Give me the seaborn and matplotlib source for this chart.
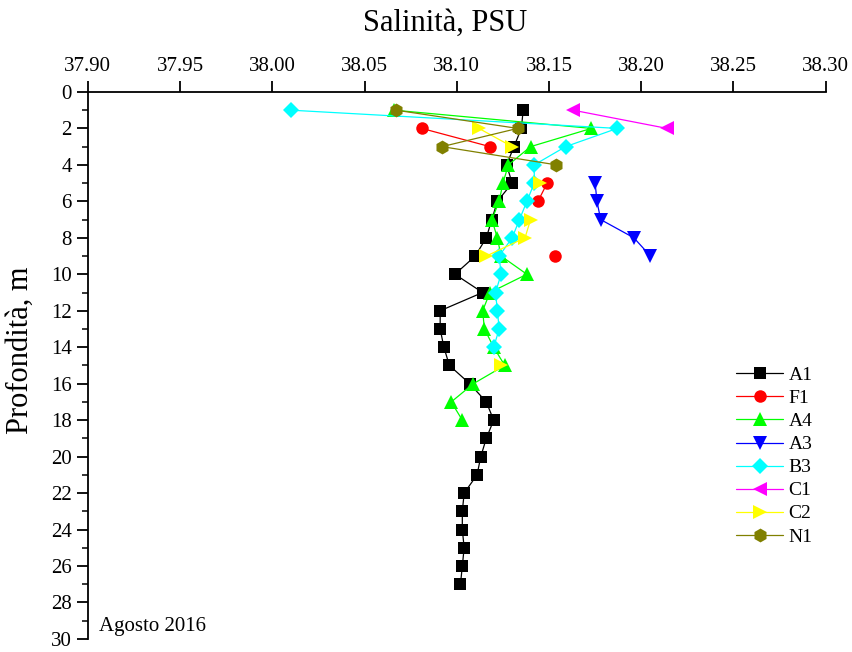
import numpy as np
import pandas as pd
import seaborn as sns
import matplotlib
matplotlib.use('Agg')
import matplotlib.pyplot as plt
from matplotlib.ticker import MultipleLocator, FormatStrFormatter

# Data (salinity PSU by depth m)
a1_depth = [1, 2, 3, 4, 5, 6, 7, 8, 9, 10, 11, 12, 13, 14, 15, 16, 17, 18,
            19, 20, 21, 22, 23, 24, 25, 26, 27]
a1_sal = [38.136, 38.135, 38.131, 38.127, 38.130, 38.122, 38.119, 38.116,
          38.110, 38.099, 38.114, 38.091, 38.091, 38.093, 38.096, 38.107,
          38.116, 38.120, 38.116, 38.113, 38.111, 38.104, 38.103, 38.103,
          38.104, 38.103, 38.102]

f1_depth = [2, 3, 5, 6, 9]
f1_sal = [38.081, 38.118, 38.149, 38.144, 38.153]

a4_depth = [1, 2, 3, 4, 5, 6, 7, 8, 9, 10, 11, 12, 13, 14, 15, 16, 17, 18]
a4_sal = [38.066, 38.173, 38.140, 38.128, 38.125, 38.123, 38.119, 38.122,
          38.124, 38.138, 38.118, 38.114, 38.115, 38.120, 38.126, 38.109,
          38.097, 38.103]

a3_depth = [5, 6, 7, 8, 9]
a3_sal = [38.175, 38.176, 38.178, 38.196, 38.205]

b3_depth = [1, 2, 3, 4, 5, 6, 7, 8, 9, 10, 11, 12, 13, 14]
b3_sal = [38.010, 38.187, 38.159, 38.142, 38.142, 38.138, 38.134, 38.130,
          38.123, 38.124, 38.121, 38.122, 38.123, 38.120]

c1_depth = [1, 2]
c1_sal = [38.163, 38.214]

c2_depth = [2, 3, 5, 7, 8, 9, 15]
c2_sal = [38.112, 38.130, 38.145, 38.140, 38.137, 38.116, 38.124]

n1_depth = [1, 2, 3, 4]
n1_sal = [38.067, 38.133, 38.092, 38.154]

stations = ['A1', 'F1', 'A4', 'A3', 'B3', 'C1', 'C2', 'N1']
colors = {'A1': 'black', 'F1': 'red', 'A4': '#00ff00', 'A3': 'blue',
          'B3': 'cyan', 'C1': 'magenta', 'C2': 'yellow', 'N1': '#808000'}
marks = {'A1': 's', 'F1': 'o', 'A4': '^', 'A3': 'v', 'B3': 'D',
         'C1': '<', 'C2': '>', 'N1': 'h'}
# marker sizes so the shapes look about the same size
msize = {'s': 8, 'o': 9, '^': 10.5, 'v': 10.5, '<': 10.5, '>': 10.5,
         'D': 8.5, 'h': 10}

series = {'A1': (a1_depth, a1_sal), 'F1': (f1_depth, f1_sal),
          'A4': (a4_depth, a4_sal), 'A3': (a3_depth, a3_sal),
          'B3': (b3_depth, b3_sal), 'C1': (c1_depth, c1_sal),
          'C2': (c2_depth, c2_sal), 'N1': (n1_depth, n1_sal)}

# Long table; a new segment starts wherever a depth is missing
rows = []
for st in stations:
    d, s = series[st]
    seg = 0
    for i in range(len(d)):
        if i > 0 and d[i] - d[i - 1] > 1:
            seg += 1
        rows.append({'station': st, 'depth': d[i], 'sal': s[i], 'seg': seg})
df = pd.DataFrame(rows)

sns.set_theme(style='ticks')
plt.rcParams['font.family'] = ['Liberation Serif', 'DejaVu Serif']
plt.rcParams['text.color'] = 'black'
plt.rcParams['axes.labelcolor'] = 'black'

fig = plt.figure(figsize=(8.53, 6.52), dpi=100)
ax = fig.add_axes([0.103, 0.02, 0.865, 0.839])

sns.lineplot(data=df, x='sal', y='depth', hue='station', style='station',
             units='seg', estimator=None, sort=False, orient='y',
             hue_order=stations, style_order=stations, palette=colors,
             markers=marks, dashes=False, markersize=8, markeredgewidth=0,
             linewidth=0.9, ax=ax)

for ln in ax.lines:
    m = ln.get_marker()
    if m in msize:
        ln.set_markersize(msize[m])

ax.set_xlim(37.90, 38.30)
ax.set_ylim(30, 0)
ax.xaxis.set_major_locator(MultipleLocator(0.05))
ax.xaxis.set_major_formatter(FormatStrFormatter('%.2f'))
ax.yaxis.set_major_locator(MultipleLocator(2))
ax.yaxis.set_minor_locator(MultipleLocator(1))
ax.xaxis.tick_top()
ax.xaxis.set_label_position('top')
ax.spines['right'].set_visible(False)
ax.spines['bottom'].set_visible(False)
for sp in ['top', 'left']:
    ax.spines[sp].set_linewidth(1.3)
    ax.spines[sp].set_color('black')
ax.tick_params(axis='both', which='major', direction='out', length=8,
               width=1.3, labelsize=15, colors='black')
ax.tick_params(axis='y', which='minor', direction='out', length=4, width=1.3)

ax.set_xlabel('Salinità, PSU', fontsize=22)
ax.set_ylabel('Profondità, m', fontsize=22)
ax.xaxis.set_label_coords(0.484, 1.112)
ax.yaxis.set_label_coords(-0.072, 0.527)
ax.text(0.015, 0.006, 'Agosto 2016', transform=ax.transAxes, fontsize=15,
        ha='left', va='bottom')

leg = ax.legend(loc='upper left', bbox_to_anchor=(0.855, 0.53), frameon=False,
                fontsize=14, handlelength=2.4, labelspacing=0.28,
                handletextpad=0.3)
for h in leg.legend_handles:
    m = h.get_marker()
    if m in msize:
        h.set_markersize(msize[m])

fig.savefig('out.png', dpi=100)
